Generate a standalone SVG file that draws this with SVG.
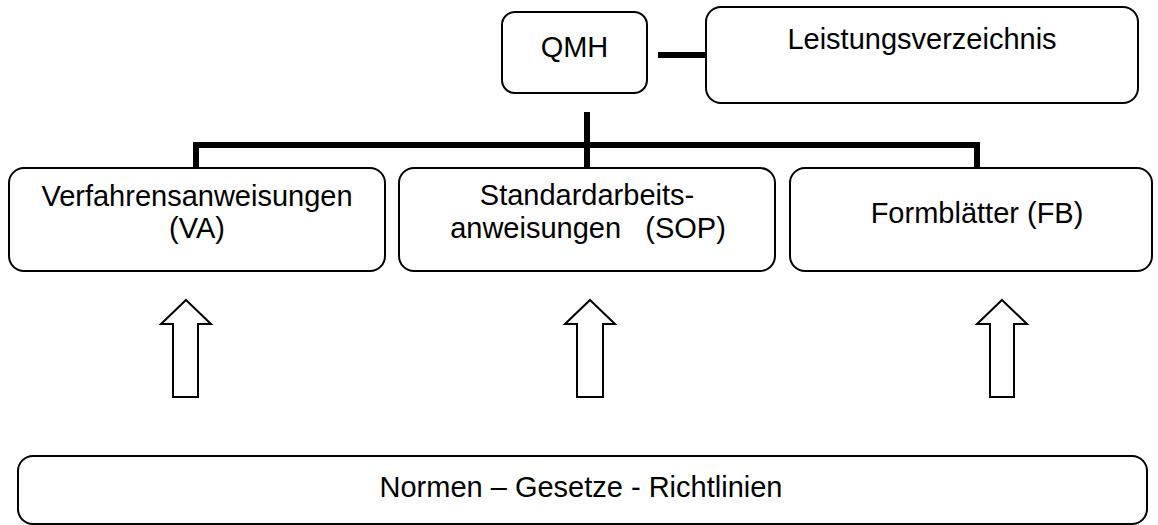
<svg xmlns="http://www.w3.org/2000/svg" width="1158" height="525" viewBox="0 0 1158 525">
<style>
.box{fill:#fff;stroke:#000;stroke-width:2}
.t{font-family:"Liberation Sans",Arial,sans-serif;font-size:29px;fill:#000;text-anchor:middle}
.c{stroke:#000;stroke-width:6;fill:none}
.arr{fill:#fff;stroke:#000;stroke-width:2;stroke-linejoin:miter}
</style>
<rect width="1158" height="525" fill="#fff"/>
<g id="connectors">
<line class="c" x1="658" y1="55" x2="706" y2="55"/>
<line class="c" x1="587" y1="112" x2="587" y2="168"/>
<polyline class="c" points="196,168 196,145 977,145 977,168"/>
<polygon class="arr" points="186,300 211,324 198,324 198,397 173,397 173,324 161,324"/>
<polygon class="arr" points="590,300 615,324 603,324 603,397 577,397 577,324 565,324"/>
<polygon class="arr" points="1002,300 1027,324 1014,324 1014,397 990,397 990,324 977,324"/>
</g>
<g id="qmh">
<rect class="box" x="502" y="12" width="145" height="81" rx="13"/>
<text class="t" x="574.5" y="57">QMH</text>
</g>
<g id="leistungsverzeichnis">
<rect class="box" x="706" y="7" width="432" height="96" rx="15"/>
<text class="t" x="922" y="49">Leistungsverzeichnis</text>
</g>
<g id="va">
<rect class="box" x="9" y="168" width="376" height="103" rx="15"/>
<text class="t" x="197" y="206">Verfahrensanweisungen</text>
<text class="t" x="197" y="238">(VA)</text>
</g>
<g id="sop">
<rect class="box" x="399" y="168" width="376" height="103" rx="15"/>
<text class="t" x="587" y="205">Standardarbeits-</text>
<text class="t" x="588" y="238" xml:space="preserve">anweisungen   (SOP)</text>
</g>
<g id="fb">
<rect class="box" x="790" y="168" width="362" height="103" rx="15"/>
<text class="t" x="977" y="223">Formblätter (FB)</text>
</g>
<g id="normen">
<rect class="box" x="18" y="456" width="1129" height="68" rx="15"/>
<text class="t" x="581" y="497">Normen – Gesetze - Richtlinien</text>
</g>
</svg>
